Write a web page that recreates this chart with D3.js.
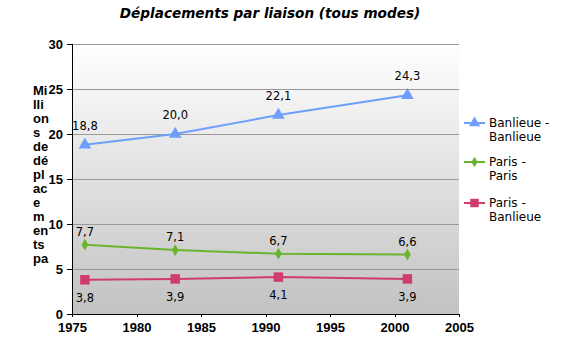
<!DOCTYPE html>
<html><head><meta charset="utf-8">
<script src="https://cdn.jsdelivr.net/npm/d3@7"></script>
<style>body{margin:0;background:#fff}svg{display:block}</style>
</head><body>
<svg id="c" width="572" height="359"></svg>
<script>
const years = [1976, 1983, 1991, 2001];
const banlieueBanlieue = [18.8, 20.0, 22.1, 24.3];
const parisParis = [7.7, 7.1, 6.7, 6.6];
const parisBanlieue = [3.8, 3.9, 4.1, 3.9];
const seriesNames = ["Banlieue - Banlieue", "Paris - Paris", "Paris - Banlieue"];
const yTicks = [0, 5, 10, 15, 20, 25, 30];
const xTicks = [1975, 1980, 1985, 1990, 1995, 2000, 2005];
const yTitleChunks = ["Mi","lli","on","s","de","dé","pl","ac","e","m","en","ts","pa"];
const title = "Déplacements par liaison (tous modes)";

const svg = d3.select("#c");
const L = 72, R = 459, T = 44, B = 314;
const x = d3.scaleLinear().domain([1975, 2005]).range([L, R]);
const y = d3.scaleLinear().domain([0, 30]).range([B, T]);

const defs = svg.append("defs");
const g = defs.append("linearGradient").attr("id","bg").attr("x1",0).attr("y1",0).attr("x2",0).attr("y2",1);
g.append("stop").attr("offset","0%").attr("stop-color","#ffffff");
g.append("stop").attr("offset","100%").attr("stop-color","#c2c2c2");
svg.append("rect").attr("x",L).attr("y",T).attr("width",R-L).attr("height",B-T).attr("fill","url(#bg)");

// grid
svg.append("g").selectAll("line").data(yTicks.filter(d=>d>0)).join("line")
  .attr("x1",L).attr("x2",R).attr("y1",d=>y(d)).attr("y2",d=>y(d))
  .attr("stroke","#999").attr("stroke-width",1).attr("shape-rendering","crispEdges");

// axes
const yAxis = svg.append("g").attr("transform",`translate(${L},0)`)
  .call(d3.axisLeft(y).tickValues(yTicks).tickSize(5).tickPadding(4).tickFormat(d3.format("d")));
const xAxis = svg.append("g").attr("transform",`translate(0,${B})`)
  .call(d3.axisBottom(x).tickValues(xTicks).tickSize(3).tickPadding(6).tickFormat(d3.format("d")));
[yAxis, xAxis].forEach(a => {
  a.select(".domain").attr("stroke","#000").attr("shape-rendering","crispEdges");
  a.selectAll(".tick line").attr("stroke","#000").attr("shape-rendering","crispEdges");
  a.selectAll("text").attr("font-family","Liberation Sans, Arial, sans-serif").attr("font-weight","bold").attr("font-size",13).attr("fill","#000");
});
yAxis.select(".domain").attr("d", `M0,${B}V${T}`);
xAxis.select(".domain").attr("d", `M${L},0H${R}`);

// title
svg.append("text").attr("x",270).attr("y",18).attr("text-anchor","middle")
  .attr("font-family","DejaVu Sans, Verdana, sans-serif").attr("font-weight","bold").attr("font-style","italic")
  .attr("font-size",13.6).attr("fill","#000").text(title);

// y title
svg.append("g").selectAll("text").data(yTitleChunks).join("text")
  .attr("x",33).attr("y",(d,i)=>95+i*14)
  .attr("font-family","Liberation Sans, Arial, sans-serif").attr("font-weight","bold").attr("font-size",13)
  .attr("fill","#000").text(d=>d);

const series = [
  {name: seriesNames[0], values: banlieueBanlieue, color:"#6e9ffd", marker:"triangle", dy:-15},
  {name: seriesNames[1], values: parisParis, color:"#6ab42d", marker:"diamond", dy:-9},
  {name: seriesNames[2], values: parisBanlieue, color:"#d03c6c", marker:"square", dy:22}
];
const symSize = {triangle: 70, diamond: 40, square: 90};
const symType = {triangle: d3.symbolTriangle, diamond: d3.symbolDiamond, square: d3.symbolSquare};
const line = d3.line().x(d=>x(d[0])).y(d=>y(d[1]));
const fmt = v => d3.format(".1f")(v).replace(".", ",");

series.forEach(s => {
  const pts = years.map((yr,i)=>[yr, s.values[i]]);
  svg.append("path").datum(pts).attr("d",line).attr("fill","none").attr("stroke",s.color).attr("stroke-width",2);
  svg.append("g").selectAll("path").data(pts).join("path")
    .attr("transform",d=>`translate(${x(d[0])},${y(d[1])})`)
    .attr("d",d3.symbol().type(symType[s.marker]).size(symSize[s.marker])).attr("fill",s.color);
  svg.append("g").selectAll("text").data(pts).join("text")
    .attr("x",d=>x(d[0])).attr("y",d=>y(d[1])+s.dy).attr("text-anchor","middle")
    .attr("font-family","DejaVu Sans, Verdana, sans-serif").attr("font-size",11.5).attr("fill","#000")
    .text(d=>fmt(d[1]));
});

// legend
const legY = [123, 162, 203];
series.forEach((s,i) => {
  const lg = svg.append("g").attr("transform",`translate(0,${legY[i]})`);
  lg.append("line").attr("x1",464).attr("x2",485).attr("y1",0).attr("y2",0).attr("stroke",s.color).attr("stroke-width",2);
  lg.append("path").attr("transform","translate(474.5,0)")
    .attr("d",d3.symbol().type(symType[s.marker]).size(symSize[s.marker]*0.8)).attr("fill",s.color);
  const parts = s.name.split(" - ");
  const t = lg.append("text").attr("font-family","DejaVu Sans, Verdana, sans-serif").attr("font-size",12).attr("fill","#000");
  t.append("tspan").attr("x",489).attr("y",4).text(parts[0] + " -");
  t.append("tspan").attr("x",489).attr("y",18).text(parts[1]);
});
</script>
</body></html>
